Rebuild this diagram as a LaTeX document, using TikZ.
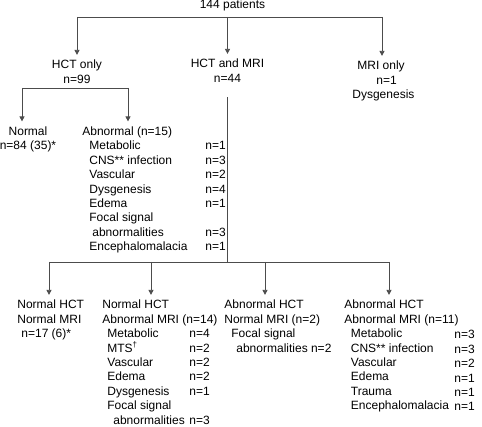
\documentclass[tikz,border=0pt]{standalone}
\usepackage{fontspec}
\setmainfont{Liberation Sans}
\usetikzlibrary{arrows.meta}

\tikzset{every picture/.style={line width=0.8pt}}

\begin{document}
\begin{tikzpicture}[x=1pt,y=1pt,yscale=-1,xscale=1,
    lbl/.style={inner sep=0pt,font=\fontsize{12}{14.4}\selectfont},
    ln/.style={draw=black!70},
    arr/.style={ln,-{Triangle[length=5pt,width=5pt]},shorten >=5pt}]
  \useasboundingbox (0,0) rectangle (482,427);

  % Top level
  \node [lbl,anchor=base] (pat) at (232.5,9) {144 patients};
  \coordinate (tl) at (77,17);
  \coordinate (tr) at (382,17);
  \draw [ln] (tl) -- (tr);

  % anchors below sit on the last line of each node
  \node [lbl,anchor=base,align=center] (hct) at (77,83.4) {HCT only\\n=99};
  \node [lbl,anchor=base,align=center] (both) at (227.5,82.4) {HCT and MRI\\n=44};
  \node [lbl,anchor=base west,align=left] (mri) at (352,98.8) {\hspace{5pt}MRI only\\\hspace{24pt}n=1\\Dysgenesis};

  \draw [arr] (tl) -- (hct.north);
  \draw [arr] (both.north |- tl) -- (both.north);
  \draw [arr] (tr) -- (tr |- mri.north);

  % HCT only branch
  \coordinate (ll) at (22,88);
  \coordinate (lr) at (128,88);
  \draw [ln] (ll) -- (lr);

  \node [lbl,anchor=base,align=center] (norm) at (28,149.9) {Normal\\n=84 (35)*};
  \node [lbl,anchor=base west] (abn) at (82,135.5) {Abnormal (n=15)};
  \node [lbl,anchor=base west,align=left] (abnl) at (89,250.7)
    {Metabolic\\CNS** infection\\Vascular\\Dysgenesis\\Edema\\Focal signal\\\hspace{3pt}abnormalities\\Encephalomalacia};
  \node [lbl,anchor=base west,align=left] (abnv) at (205,250.7)
    {n=1\\n=3\\n=2\\n=4\\n=1\\\mbox{}\\n=3\\n=1};

  \draw [arr] (ll) -- (ll |- norm.north);
  \draw [arr] (lr) -- (lr |- abn.north);

  % HCT and MRI branch
  \coordinate (bl) at (49,262);
  \coordinate (br) at (389,262);
  \coordinate (b2) at (151,262);
  \coordinate (b3) at (265,262);
  \draw [ln,shorten <=14.5pt] (both.south) -- (both.south |- bl);
  \draw [ln] (bl) -- (br);

  \node [lbl,anchor=base west,align=left] (nn) at (17,337.8) {Normal HCT\\Normal MRI\\\hspace{4pt}n=17 (6)*};

  \node [lbl,anchor=base west,align=left] (na) at (102,323.4) {Normal HCT\\Abnormal MRI (n=14)};
  \node [lbl,anchor=base west,align=left] (nal) at (107,424.2)
    {Metabolic\\MTS\textsuperscript{†}\\Vascular\\Edema\\Dysgenesis\\Focal signal\\\hspace{6pt}abnormalities};
  \node [lbl,anchor=base west,align=left] (nav) at (189,424.2)
    {n=4\\n=2\\n=2\\n=2\\n=1\\\mbox{}\\n=3};

  \node [lbl,anchor=base west,align=left] (an) at (224,323.4) {Abnormal HCT\\Normal MRI (n=2)};
  \node [lbl,anchor=base west,align=left] (anl) at (231,352.2) {Focal signal\\\hspace{5pt}abnormalities n=2};

  \node [lbl,anchor=base west,align=left] (aa) at (344,323.4) {Abnormal HCT\\Abnormal MRI (n=11)};
  \node [lbl,anchor=base west,align=left] (aal) at (350.5,409.8)
    {Metabolic\\CNS** infection\\Vascular\\Edema\\Trauma\\Encephalomalacia};
  \node [lbl,anchor=base west,align=left] (aav) at (454,410.8)
    {n=3\\n=3\\n=2\\n=1\\n=1\\n=1};

  \draw [arr] (bl) -- (bl |- nn.north);
  \draw [arr] (b2) -- (b2 |- na.north);
  \draw [arr] (b3) -- (b3 |- an.north);
  \draw [arr] (br) -- (br |- aa.north);
\end{tikzpicture}
\end{document}
